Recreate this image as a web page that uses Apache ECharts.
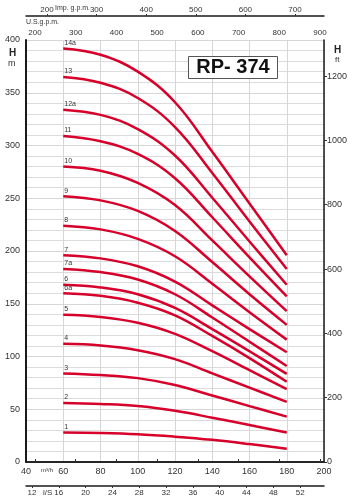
<!DOCTYPE html>
<html>
<head>
<meta charset="utf-8">
<script src="https://cdn.jsdelivr.net/npm/echarts@6/dist/echarts.min.js"></script>
<style>
html, body { margin: 0; padding: 0; background: #fff; }
#main { width: 353px; height: 500px; }
</style>
</head>
<body>
<div id="main"></div>
<script>
// flow points (m3/h) at which the curves were read
const flow = [60, 80, 100, 120, 140, 160, 180];

// stage labels, top curve first
const stages = ['14a', '13', '12a', '11', '10', '9', '8', '7', '7a', '6', '6a', '5', '4', '3', '2', '1'];

// head in metres for each stage
const head14a = [392, 386, 370, 341, 294, 245, 196];
const head13  = [365, 359.5, 345, 317.5, 274, 228, 183];
const head12a = [334, 329, 315.5, 290.5, 250.5, 209, 168];
const head11  = [309, 304, 292, 269, 232, 194, 157];
const head10  = [280, 276, 264.5, 243.5, 210, 176, 143];
const head9   = [252, 248, 238, 219, 189.5, 159, 130];
const head8   = [224, 220.5, 211.5, 195, 169, 142, 116];
const head7   = [196, 193, 185.5, 171, 148.5, 126, 104];
const head7a  = [183, 180, 173, 159, 137, 114, 91];
const head6   = [168, 165.5, 159, 146, 126, 105, 83.5];
const head6a  = [160, 157.5, 151, 139, 119.5, 98.5, 76];
const head5   = [139.5, 137.5, 132, 121.5, 105, 87, 69];
const head4   = [112, 110.5, 106, 97.5, 84, 70.5, 57];
const head3   = [84, 82.5, 79.5, 73, 63, 53, 43];
const head2   = [56, 55, 53, 48.5, 42, 35, 28];
const head1   = [28, 27.5, 26.3, 24, 21, 17, 12.5];

const heads = [head14a, head13, head12a, head11, head10, head9, head8, head7,
               head7a, head6, head6a, head5, head4, head3, head2, head1];

// secondary scale ticks
const usGpmTicks = [200, 300, 400, 500, 600, 700, 800, 900];
const impGpmTicks = [200, 300, 400, 500, 600, 700];
const lsTicks = [12, 16, 20, 24, 28, 32, 36, 40, 44, 48, 52];
const ftTicks = [0, 200, 400, 600, 800, 1000, 1200];

const chart = echarts.init(document.getElementById('main'));

const FONT = 'Liberation Sans';
const txt = '#333';
const frame = { show: true, lineStyle: { color: '#1a1a1a', width: 1.5 } };
const gridLine = { show: true, lineStyle: { color: '#d6d6d6', width: 1 } };
const plain = v => String(v);

const series = stages.map((name, i) => ({
    name: name,
    type: 'line',
    smooth: 0.4,
    symbol: 'circle',
    symbolSize: 0.1,
    showSymbol: true,
    silent: true,
    xAxisIndex: 0,
    yAxisIndex: 0,
    lineStyle: { color: '#d6002b', width: 2.5 },
    itemStyle: { color: '#d6002b' },
    data: heads[i].map((h, j) => j === 0
        ? { value: [flow[j], h], label: { show: true } }
        : { value: [flow[j], h] }),
    label: {
        show: false,
        position: 'top',
        align: 'left',
        distance: 2,
        offset: [1, 0],
        formatter: name,
        fontSize: 7,
        fontFamily: FONT,
        color: txt
    }
}));

const option = {
    animation: false,
    textStyle: { fontFamily: FONT },
    grid: { left: 26, right: 29, top: 40, bottom: 38 },
    xAxis: [
        {
            type: 'value', position: 'bottom', min: 40, max: 200, interval: 20,
            axisLine: frame, axisTick: { show: false },
            axisLabel: { color: txt, fontSize: 9, margin: 5 },
            splitLine: gridLine
        },
        {
            type: 'value', position: 'top', min: 177.9, max: 909.8,
            axisLine: frame,
            axisTick: { show: true, length: 3, customValues: usGpmTicks, lineStyle: { color: '#333' } },
            axisLabel: { customValues: usGpmTicks, color: txt, fontSize: 8, margin: 3 },
            splitLine: { show: false }
        },
        {
            type: 'value', position: 'top', offset: 24, min: 157.7, max: 758.5,
            axisLine: frame,
            axisTick: { show: true, length: 2, customValues: impGpmTicks, lineStyle: { color: '#333' } },
            axisLabel: { customValues: impGpmTicks, color: txt, fontSize: 8, margin: 2 },
            splitLine: { show: false }
        },
        {
            type: 'value', position: 'bottom', offset: 24, min: 40 / 3.6, max: 200 / 3.6,
            axisLine: frame,
            axisTick: { show: true, length: 2, customValues: lsTicks, lineStyle: { color: '#333' } },
            axisLabel: { customValues: lsTicks, color: txt, fontSize: 8, margin: 3 },
            splitLine: { show: false }
        }
    ],
    yAxis: [
        {
            type: 'value', position: 'left', min: 0, max: 400, interval: 50,
            axisLine: { show: true, lineStyle: { color: '#1a1a1a', width: 2 } },
            axisTick: { show: false },
            axisLabel: { color: txt, fontSize: 9, margin: 6 },
            splitLine: gridLine,
            minorTick: { show: false, splitNumber: 5 },
            minorSplitLine: { show: true, lineStyle: { color: '#dcdcdc', width: 1 } }
        },
        {
            type: 'value', position: 'right', min: 0, max: 400 * 3.28084,
            axisLine: frame,
            axisTick: { show: true, length: 3, customValues: ftTicks, lineStyle: { color: '#333' } },
            axisLabel: { customValues: ftTicks, formatter: plain, color: txt, fontSize: 9, margin: 3 },
            splitLine: { show: false }
        }
    ],
    graphic: [
        { type: 'text', left: 9, top: 48, style: { text: 'H', font: 'bold 10px ' + FONT, fill: '#222' } },
        { type: 'text', left: 8, top: 59, style: { text: 'm', font: '9px ' + FONT, fill: txt } },
        { type: 'text', left: 334, top: 45, style: { text: 'H', font: 'bold 10px ' + FONT, fill: '#222' } },
        { type: 'text', left: 335, top: 56, style: { text: 'ft', font: '8px ' + FONT, fill: txt } },
        { type: 'text', left: 26, top: 19, style: { text: 'U.S.g.p.m.', font: '7px ' + FONT, fill: txt } },
        { type: 'text', left: 55, top: 5, style: { text: 'Imp. g.p.m.', font: '7px ' + FONT, fill: txt } },
        { type: 'text', left: 41, top: 467, style: { text: 'm³/h', font: '6px ' + FONT, fill: txt } },
        { type: 'text', left: 43, top: 489, style: { text: 'l/S', font: '8px ' + FONT, fill: txt } },
        {
            type: 'group', left: 188, top: 56, z: 100, children: [
                { type: 'rect', z: 100, shape: { x: 0, y: 0, width: 89, height: 22 },
                  style: { fill: '#fff', stroke: '#555', lineWidth: 1 } },
                { type: 'text', z: 101, x: 44.5, y: 11,
                  style: { text: 'RP- 374', font: 'bold 20px ' + FONT, fill: '#111',
                           align: 'center', verticalAlign: 'middle' } }
            ]
        }
    ],
    series: series
};

chart.setOption(option);
</script>
</body>
</html>
